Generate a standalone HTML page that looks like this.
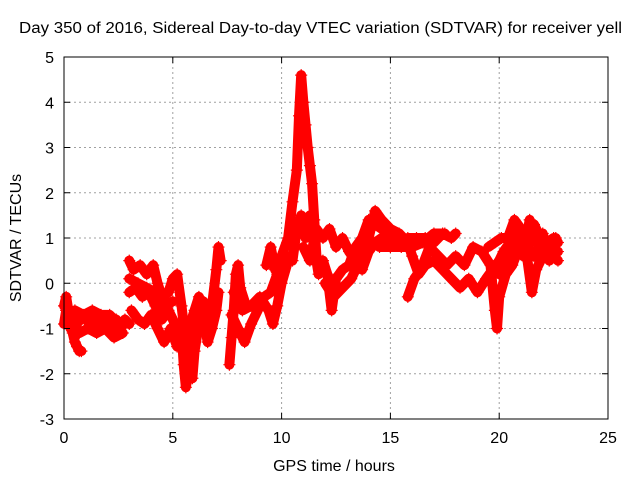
<!DOCTYPE html>
<html><head><meta charset="utf-8"><style>
body{margin:0;background:#fff;width:640px;height:480px;overflow:hidden}
svg{display:block;font-family:"Liberation Sans",sans-serif}
</style></head><body>
<svg id="chart" width="640" height="480" viewBox="0 0 640 480">
<rect width="640" height="480" fill="#fff"/>
<text x="19" y="33" font-size="15.5" textLength="603" lengthAdjust="spacingAndGlyphs">Day 350 of 2016, Sidereal Day-to-day VTEC variation (SDTVAR) for receiver yell</text>
<text x="334" y="471" font-size="16" text-anchor="middle">GPS time / hours</text>
<text transform="translate(21,238) rotate(-90)" font-size="16" text-anchor="middle">SDTVAR / TECUs</text>
<g id="grid"></g><g id="marks"></g><g id="axes"></g>
</svg>
<script>
const xTicks=[0,5,10,15,20,25];
const yTicks=[-3,-2,-1,0,1,2,3,4,5];
const tracks=[
[[0,-0.5],[0.1,-0.3],[0.2,-0.6],[0.3,-0.9],[0.4,-1.1],[0.5,-1.3],[0.6,-1.4],[0.7,-1.5],[0.8,-1.5]],
[[0,-0.9],[0.1,-0.6],[0.2,-0.7],[0.4,-0.8],[0.6,-0.9],[0.8,-0.7],[1.0,-0.8],[1.2,-0.9],[1.4,-0.7],[1.6,-1.0],[1.8,-0.8],[2.0,-0.9],[2.2,-1.1],[2.4,-0.8],[2.6,-1.0],[2.8,-0.8],[3.0,-0.9]],
[[0.5,-0.6],[0.9,-0.7],[1.3,-0.6],[1.7,-0.7],[2.1,-0.7],[2.5,-0.9]],
[[3.0,0.5],[3.2,0.3],[3.5,0.4],[3.8,0.2],[4.1,0.4],[4.3,0.0],[4.5,-0.3],[4.8,-0.2],[5.0,0.1],[5.2,0.2],[5.4,-0.5],[5.6,-1.3]],
[[3.0,-0.2],[3.3,-0.1],[3.6,-0.3],[3.9,-0.2],[4.2,-0.5],[4.5,-0.8],[4.8,-0.6],[5.1,-0.9],[5.4,-1.2]],
[[3.1,-0.6],[3.4,-0.8],[3.7,-0.9],[4.0,-0.7],[4.3,-1.0],[4.6,-1.3],[4.9,-1.0],[5.2,-1.4]],
[[5.4,-1.0],[5.5,-1.8],[5.6,-2.3],[5.7,-2.0],[5.8,-1.6],[5.9,-2.1],[6.0,-1.5],[6.2,-0.9],[6.4,-0.4],[6.6,-1.0],[6.8,-0.5],[7.0,0.3],[7.1,0.8],[7.2,0.5]],
[[5.6,-1.5],[5.8,-0.9],[6.0,-0.6],[6.2,-0.3],[6.4,-0.7],[6.6,-1.3],[6.8,-1.0],[7.0,-0.6],[7.1,-0.2]],
[[7.6,-1.8],[7.7,-1.2],[7.8,-0.6],[7.9,0.2],[8.0,0.4],[8.1,-0.1],[8.3,-0.4]],
[[7.7,-0.7],[8.0,-1.0],[8.3,-1.3],[8.6,-0.9],[8.9,-0.6],[9.2,-0.3],[9.5,-0.2],[9.8,0.2],[10.1,0.4],[10.4,0.6]],
[[7.8,-0.2],[8.2,-0.6],[8.6,-0.5],[9.0,-0.3],[9.4,-0.6],[9.6,-0.9],[9.8,-0.5],[10.0,0.0],[10.3,0.5]],
[[9.3,0.4],[9.5,0.8],[9.7,0.3],[10.0,0.6],[10.3,1.0],[10.5,1.8],[10.7,2.5],[10.8,3.7],[10.9,4.6],[11.0,4.0],[11.1,3.5],[11.2,3.0],[11.3,2.6],[11.4,2.2],[11.5,1.4],[11.6,0.6]],
[[10.5,0.5],[10.7,1.2],[10.9,1.5],[11.1,1.0],[11.3,1.5],[11.5,0.8],[11.7,0.2],[11.9,0.5],[12.1,0.2],[12.3,-0.6],[12.5,0.1],[12.8,0.3],[13.1,0.4],[13.4,0.8],[13.7,1.0],[14.0,1.4],[14.3,1.3],[14.6,1.2],[14.9,1.1]],
[[11.0,0.8],[11.3,0.5],[11.6,1.2],[11.9,1.0],[12.2,1.2],[12.5,0.8],[12.8,1.0],[13.1,0.7],[13.4,0.5],[13.7,0.3],[14.0,0.7],[14.3,0.9],[14.6,1.0],[15.0,1.0],[15.4,0.9],[15.8,1.0],[16.2,1.0],[16.6,1.0],[17.0,0.9],[17.4,1.1],[17.8,1.0],[18.0,1.1]],
[[12.0,0.0],[12.4,-0.3],[12.8,-0.1],[13.2,0.1],[13.6,0.5],[14.0,1.0],[14.3,1.6],[14.6,1.4],[15.0,1.2],[15.4,1.1],[15.8,0.9],[16.0,0.6],[16.3,0.2],[16.6,0.4],[17.0,0.5],[17.4,0.3],[17.8,0.1],[18.2,-0.1],[18.6,0.1],[19.0,-0.2],[19.4,0.1],[19.7,0.3],[20.0,0.5]],
[[15.8,-0.3],[16.1,0.1],[16.4,0.3],[16.8,0.8],[17.2,0.6],[17.6,0.4],[18.0,0.6],[18.4,0.4],[18.8,0.8],[19.2,0.7],[19.6,0.4],[19.8,-0.6],[19.9,-1.0],[20.0,-0.3],[20.3,0.2],[20.6,0.4],[21.0,0.9],[21.3,0.5],[21.5,-0.2],[21.7,0.3],[22.0,0.6],[22.4,0.7],[22.7,0.7]],
[[19.5,0.8],[19.8,0.9],[20.1,1.0],[20.4,1.0],[20.7,1.4],[21.0,1.2],[21.3,1.1],[21.6,1.3],[21.9,1.0],[22.2,0.9],[22.5,1.0],[22.7,0.9]],
[[19.6,0.1],[19.9,0.4],[20.2,0.7],[20.5,0.9],[20.8,0.8],[21.1,0.6],[21.4,1.4],[21.7,0.9],[22.0,1.1],[22.3,0.5],[22.6,1.0]],
[[0.3,-1.0],[0.7,-1.1],[1.1,-1.0],[1.5,-1.1],[1.9,-1.0],[2.3,-1.2],[2.7,-1.1]],
[[3.0,0.1],[3.4,0.0],[3.8,-0.1],[4.2,-0.2],[4.6,-0.5],[5.0,-0.4]],
[[14.5,0.8],[15.0,0.8],[15.5,0.8],[16.0,0.8],[16.5,0.9],[17.0,1.1],[17.5,1.1]],
[[20.0,0.2],[20.4,0.5],[20.8,1.1],[21.2,0.9],[21.6,0.6],[22.0,0.9],[22.5,0.6],[22.7,0.5]]
];
const NS='http://www.w3.org/2000/svg';
const L=64,R=608,T=57,B=419;
const xs=v=>L+(v-0)/25*(R-L);
const ys=v=>B-(v+3)/8*(B-T);
function mk(tag,at,parent){const e=document.createElementNS(NS,tag);for(const k in at)e.setAttribute(k,at[k]);parent.appendChild(e);return e;}
const grid=document.getElementById('grid'),marks=document.getElementById('marks'),axes=document.getElementById('axes');
xTicks.forEach(t=>{const x=xs(t);
 if(t>0&&t<25){const g=mk('line',{x1:x,x2:x,y1:T,y2:B,stroke:'#a0a0a0','stroke-dasharray':'2,3'},grid);
 
 }
 mk('line',{x1:x,x2:x,y1:B,y2:B-6,stroke:'#000'},axes);
 mk('line',{x1:x,x2:x,y1:T,y2:T+6,stroke:'#000'},axes);
 const tx=mk('text',{x:x,y:B+24,'font-size':16,'text-anchor':'middle'},axes);tx.textContent=t;
 
 
});
yTicks.forEach(t=>{const y=ys(t);
 if(t>-3&&t<5){const g=mk('line',{x1:L,x2:R,y1:y,y2:y,stroke:'#a0a0a0','stroke-dasharray':'2,3'},grid);
 
 }
 mk('line',{x1:L,x2:L+6,y1:y,y2:y,stroke:'#000'},axes);
 mk('line',{x1:R,x2:R-6,y1:y,y2:y,stroke:'#000'},axes);
 const tx=mk('text',{x:L-10,y:y+6,'font-size':16,'text-anchor':'end'},axes);tx.textContent=t;
 
 
});
const fr=mk('rect',{x:L,y:T,width:R-L,height:B-T,fill:'none',stroke:'#000'},axes);


tracks.forEach(tr=>{
 const pl=mk('polyline',{points:tr.map(p=>xs(p[0])+','+ys(p[1])).join(' '),fill:'none',stroke:'#f00','stroke-width':10,'stroke-linejoin':'round','stroke-linecap':'round'},marks);
 
 
 tr.forEach(p=>{const x=xs(p[0]),y=ys(p[1]);
  const m=mk('path',{d:`M${x-6},${y}H${x+6}M${x},${y-6}V${y+6}`,stroke:'#f00','stroke-width':1.2},marks);
  
  
 });
});
</script>
</body></html>
